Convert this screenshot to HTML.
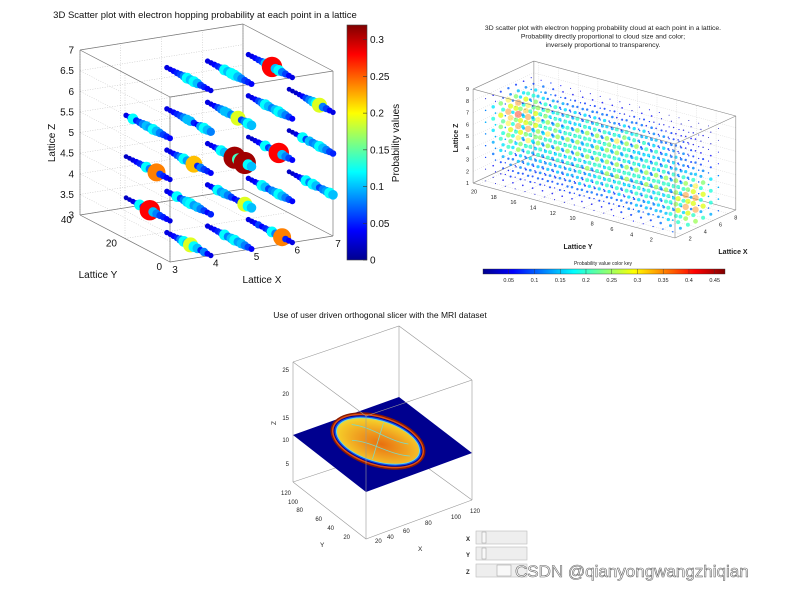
<!DOCTYPE html>
<html><head><meta charset="utf-8"><style>
html,body{margin:0;padding:0;background:#fff;}
svg{display:block;font-family:"Liberation Sans",sans-serif;}
</style></head><body>
<svg id="root" width="786" height="590" viewBox="0 0 786 590" xmlns="http://www.w3.org/2000/svg">
<defs>
<linearGradient id="jetV" x1="0" y1="1" x2="0" y2="0">
<stop offset="0" stop-color="#00008f"/><stop offset="0.125" stop-color="#0000ff"/><stop offset="0.375" stop-color="#00ffff"/><stop offset="0.625" stop-color="#ffff00"/><stop offset="0.875" stop-color="#ff0000"/><stop offset="1" stop-color="#800000"/>
</linearGradient>
<linearGradient id="jetH" x1="0" y1="0" x2="1" y2="0">
<stop offset="0" stop-color="#00008f"/><stop offset="0.125" stop-color="#0000ff"/><stop offset="0.375" stop-color="#00ffff"/><stop offset="0.625" stop-color="#ffff00"/><stop offset="0.875" stop-color="#ff0000"/><stop offset="1" stop-color="#800000"/>
</linearGradient>
<radialGradient id="brainFill" cx="0.55" cy="0.55" r="0.6">
<stop offset="0" stop-color="#e87010"/><stop offset="0.5" stop-color="#f0a020"/><stop offset="0.85" stop-color="#f5c828"/><stop offset="1" stop-color="#e8e040"/>
</radialGradient>
</defs>

<!-- Plot 1 -->
<g id="p1">
<text x="205" y="18" font-size="9.5" text-anchor="middle" fill="#111">3D Scatter plot with electron hopping probability at each point in a lattice</text>
<g id="p1grid"></g><g id="p1box"></g><g id="p1pts"></g><g id="p1ticks"></g>
<text transform="translate(55,143) rotate(-90)" font-size="10" text-anchor="middle" fill="#111">Lattice Z</text>
<text x="98" y="278" font-size="10" text-anchor="middle" fill="#111">Lattice Y</text>
<text x="262" y="283" font-size="10" text-anchor="middle" fill="#111">Lattice X</text>
<rect x="347" y="25" width="20" height="235" fill="url(#jetV)" stroke="#444" stroke-width="0.6"/>
<g id="cbticks"></g>
<text transform="translate(399,143) rotate(-90)" font-size="10" text-anchor="middle" fill="#111">Probability values</text>
</g>

<!-- Plot 2 -->
<g id="p2" fill="#222">
<text x="603" y="30" font-size="6.8" text-anchor="middle">3D scatter plot with electron hopping probability cloud at each point in a lattice.</text>
<text x="603" y="38.5" font-size="6.8" text-anchor="middle">Probability directly proportional to cloud size and color;</text>
<text x="603" y="47" font-size="6.8" text-anchor="middle">inversely proportional to transparency.</text>
<g id="p2back"></g><g id="p2pts"></g><g id="p2front"></g><g id="p2ticks"></g>
<text transform="translate(458,138) rotate(-90)" font-size="7" font-weight="bold" text-anchor="middle">Lattice Z</text>
<text x="578" y="249" font-size="7" font-weight="bold" text-anchor="middle">Lattice Y</text>
<text x="733" y="254" font-size="7" font-weight="bold" text-anchor="middle">Lattice X</text>
<text x="603" y="265" font-size="5" text-anchor="middle">Probability value color key</text>
<rect x="483" y="269" width="242" height="5" fill="url(#jetH)" stroke="#333" stroke-width="0.4"/>
<g id="keyticks"></g>
</g>

<!-- Plot 3 -->
<g id="p3">
<text x="380" y="318" font-size="8.5" text-anchor="middle" fill="#111">Use of user driven orthogonal slicer with the MRI dataset</text>
<g stroke="#999" stroke-width="0.6" fill="none">
<polyline points="293,482 399,447 472,500"/>
<line x1="399" y1="326" x2="399" y2="447"/>
<polyline points="293,362 399,326 472,380"/>
<line x1="293" y1="362" x2="293" y2="482"/>
<line x1="472" y1="380" x2="472" y2="500"/>
</g>
<polygon points="293,435 399,397 472,453 366,492" fill="#00008f"/>
<g transform="translate(378,441) rotate(17)">
<ellipse rx="49" ry="26" fill="#8a1a00"/>
<ellipse rx="47.5" ry="24.5" fill="#e05010"/>
<ellipse rx="46" ry="23" fill="#00008f"/>
<ellipse rx="45" ry="22" fill="#1050e8"/>
<ellipse rx="43.5" ry="20.8" fill="#60d8f0"/>
<ellipse rx="42.5" ry="20" fill="url(#brainFill)"/>
<path d="M-30,-8 C-10,-12 10,-3 30,-6 M-25,7 C-5,2 15,10 35,5 M0,-19 L0,19" stroke="#80d8c0" stroke-width="0.8" fill="none"/>
</g>
<g stroke="#999" stroke-width="0.6" fill="none">
<polyline points="293,482 366,539 472,500"/>
<polyline points="293,362 366,416 472,380"/>
<line x1="366" y1="416" x2="366" y2="539"/>
</g>
<g font-size="6" fill="#222" text-anchor="end">
<text x="289" y="372">25</text><text x="289" y="396">20</text><text x="289" y="420">15</text><text x="289" y="442">10</text><text x="289" y="466">5</text>
</g>
<text transform="translate(276,423) rotate(-90)" font-size="6.5" fill="#222" text-anchor="middle">Z</text>
<g font-size="6" fill="#222" text-anchor="end">
<text x="291" y="495">120</text><text x="298" y="504">100</text><text x="303" y="512">80</text><text x="322" y="521">60</text><text x="334" y="530">40</text><text x="350" y="539">20</text>
</g>
<text x="320" y="547" font-size="6.5" fill="#222">Y</text>
<g font-size="6" fill="#222">
<text x="375" y="543">20</text><text x="387" y="539">40</text><text x="403" y="533">60</text><text x="425" y="525">80</text><text x="451" y="519">100</text><text x="470" y="513">120</text>
</g>
<text x="418" y="551" font-size="6.5" fill="#222">X</text>
<g font-size="6" font-weight="bold" fill="#222">
<text x="466" y="541">X</text><text x="466" y="557">Y</text><text x="466" y="574">Z</text>
</g>
<g><rect x="476" y="531" width="51" height="13" fill="#eee" stroke="#bbb" stroke-width="0.6"/><rect x="482" y="532" width="4" height="11" fill="#f8f8f8" stroke="#999" stroke-width="0.5"/></g>
<g><rect x="476" y="547" width="51" height="13" fill="#eee" stroke="#bbb" stroke-width="0.6"/><rect x="482" y="548" width="4" height="11" fill="#f8f8f8" stroke="#999" stroke-width="0.5"/></g>
<g><rect x="476" y="564" width="51" height="13" fill="#eee" stroke="#bbb" stroke-width="0.6"/><rect x="497" y="565" width="14" height="11" fill="#f8f8f8" stroke="#999" stroke-width="0.5"/></g>
</g>

<text x="515" y="577" font-size="17" fill="#fff" stroke="#666" stroke-width="0.6">CSDN @qianyongwangzhiqian</text>
</svg>
<script>
// ---- Plot 1 data ----
const lineX = [4,5,6, 3,4,5,6,7, 3,4,5,6,7, 3,4,5,6,7, 4,5,6];
const lineZ = [3,3,3, 4,4,4,4,4, 5,5,5,5,5, 6,6,6,6,6, 7,7,7];
const lineY = [0,1.5,3,4.5,6,7.5,9,10.5,12,13.5,15,16.5,18,19.5];
const lineVals = [
[3,4,8,5,10,12,19,10,12,8,5,4,3,3],
[4,6,8,10,9,12,10,8,12,6,5,4,3,3],
[3,4,5,24,10,8,12,6,5,4,6,4,3,3],
[3,4,5,6,8,10,28,10,6,12,4,3,2,2],
[5,4,6,8,10,9,12,11,8,6,12,5,4,3],
[10,12,19,6,5,4,6,8,10,9,12,5,4,3],
[4,6,8,10,12,9,8,6,10,12,5,4,3,3],
[10,12,9,8,6,10,12,8,12,6,4,3,2,2],
[3,4,5,6,24,10,8,12,6,5,4,3,2,2],
[4,5,6,8,5,22,10,9,12,8,6,4,3,3],
[10,12,31,5,14,31,14,5,10,12,6,4,3,3],
[4,6,8,10,28,10,8,6,12,5,4,3,2,2],
[5,6,8,10,12,9,8,10,6,12,4,3,2,2],
[4,5,6,8,10,12,9,10,8,6,5,12,4,3],
[8,10,12,9,4,5,10,10,8,6,5,4,3,3],
[10,12,8,6,19,10,8,10,10,8,6,4,3,3],
[4,6,8,10,12,10,8,10,12,8,6,4,3,3],
[3,4,6,8,19,12,10,8,6,4,3,2,2,2],
[3,4,5,6,10,12,10,12,8,6,5,4,3,3],
[4,5,6,8,10,12,12,10,12,6,5,4,3,3],
[3,4,6,8,12,10,28,12,10,6,5,4,3,3]
];
const zTicks1 = ["3","3.5","4","4.5","5","5.5","6","6.5","7"];
const yTicks1 = [0,20,40];
const xTicks1 = [3,4,5,6,7];
const cbTicks = [0,0.05,0.1,0.15,0.2,0.25,0.3];
// ---- Plot 2 data (rows z=8..1, columns y=20..1, digit*0.05) ----
const cloudRows = [
"23432222222122111111",
"67655444443444332211",
"78765545555655443322",
"67756555455544444333",
"56655555555555555556",
"45444444545554555577",
"23333333444444444577",
"12222222222223333455"
];
const cloudZ = [8,7,6,5,4,3,2,1];
const cloudDepth = [3,4,5,6,7];
const depthWeight = [0.55,0.8,1,0.8,0.55];
const zTicks2 = [1,2,3,4,5,6,7,8,9];
const yTicks2 = [2,4,6,8,10,12,14,16,18,20];
const xTicks2 = [2,4,6,8];
const keyTicks = [0.05,0.1,0.15,0.2,0.25,0.3,0.35,0.4,0.45];

const NS="http://www.w3.org/2000/svg";
function mk(tag,attrs,parent){const e=document.createElementNS(NS,tag);for(const k in attrs)e.setAttribute(k,attrs[k]);parent.appendChild(e);return e;}
function jet(t){t=Math.max(0,Math.min(1,t));
 const s=[[0,0,0,143],[0.125,0,0,255],[0.375,0,255,255],[0.625,255,255,0],[0.875,255,0,0],[1,128,0,0]];
 for(let i=0;i<s.length-1;i++){if(t<=s[i+1][0]){const f=(t-s[i][0])/(s[i+1][0]-s[i][0]);
  return `rgb(${Math.round(s[i][1]+f*(s[i+1][1]-s[i][1]))},${Math.round(s[i][2]+f*(s[i+1][2]-s[i][2]))},${Math.round(s[i][3]+f*(s[i+1][3]-s[i][3]))})`;}}return "rgb(128,0,0)";}

// ---- Plot 1 ----
function p1(x,y,z){return [170+40.75*(x-3)-2.25*y, 262-6.5*(x-3)-1.175*y-41.25*(z-3)];}
const g1grid=document.getElementById('p1grid'),g1box=document.getElementById('p1box'),g1pts=document.getElementById('p1pts'),g1t=document.getElementById('p1ticks');
function seg(g,a,b,st){const e=mk('line',{x1:a[0],y1:a[1],x2:b[0],y2:b[1],stroke:st.c,'stroke-width':st.w,'stroke-dasharray':st.d||'none'},g);return e;}
const dot={c:'#bbb',w:0.5,d:'1,1.5'};
for(let i=0;i<zTicks1.length;i++){const z=3+0.5*i;
 let e=seg(g1grid,p1(3,0,z),p1(3,40,z),dot);
 e=seg(g1grid,p1(3,40,z),p1(7,40,z),dot);}
for(const x of xTicks1){let e=seg(g1grid,p1(x,40,3),p1(x,40,7),dot);
 e=seg(g1grid,p1(x,0,3),p1(x,40,3),dot);}
for(const y of yTicks1){let e=seg(g1grid,p1(3,y,3),p1(3,y,7),dot);
 e=seg(g1grid,p1(3,y,3),p1(7,y,3),dot);}
const bx={c:'#777',w:0.7};
const edges=[[[3,0,3],[7,0,3]],[[3,0,3],[3,40,3]],[[3,0,3],[3,0,7]],[[7,0,3],[7,40,3]],[[3,40,3],[7,40,3]],[[7,0,3],[7,0,7]],[[3,40,3],[3,40,7]],[[7,40,3],[7,40,7]],[[3,0,7],[7,0,7]],[[3,0,7],[3,40,7]],[[7,0,7],[7,40,7]],[[3,40,7],[7,40,7]]];
for(const ed of edges){const e=seg(g1box,p1(...ed[0]),p1(...ed[1]),bx);}
const pts=[];
for(let i=0;i<lineX.length;i++){for(let j=0;j<lineY.length;j++){pts.push({x:lineX[i],y:lineY[j],z:lineZ[i],v:lineVals[i][j]/100});}}
pts.sort((a,b)=>(b.x*0.3+b.y*0.1)-(a.x*0.3+a.y*0.1));
for(const p of pts){const c=p1(p.x,p.y,p.z);
 const e=mk('circle',{cx:c[0].toFixed(1),cy:c[1].toFixed(1),r:(1.8+30*p.v).toFixed(2),fill:jet(p.v/0.32)},g1pts);
 
 }
for(let i=0;i<zTicks1.length;i++){const c=p1(3,40,3+0.5*i);
 const e=mk('text',{x:c[0]-6,y:c[1]+3.5,'font-size':10,'text-anchor':'end',fill:'#111'},g1t);e.textContent=zTicks1[i];
 }
for(const y of yTicks1){const c=p1(3,y,3);
 const e=mk('text',{x:c[0]-8,y:c[1]+8,'font-size':10,'text-anchor':'end',fill:'#111'},g1t);e.textContent=y;
 }
for(const x of xTicks1){const c=p1(x,0,3);
 const e=mk('text',{x:c[0]+5,y:c[1]+11,'font-size':10,'text-anchor':'middle',fill:'#111'},g1t);e.textContent=x;
 }
const cbg=document.getElementById('cbticks');
for(const t of cbTicks){const yy=260-t/0.32*235;
 let e=mk('line',{x1:363,y1:yy,x2:367,y2:yy,stroke:'#333','stroke-width':0.6},cbg);
 e=mk('text',{x:370,y:yy+3.5,'font-size':10,fill:'#111'},cbg);e.textContent=String(t);
 }

// ---- Plot 2 ----
function p2(x,y,z){return [675+7.6*(x-1)-9.85*y, 238-3.5*(x-1)-2.68*y-11.75*(z-1)];}
const b2=document.getElementById('p2back'),f2=document.getElementById('p2front'),pp2=document.getElementById('p2pts'),t2=document.getElementById('p2ticks');
const gl={c:'#ccc',w:0.4,d:'1,1.2'},bl={c:'#888',w:0.6};
for(const z of zTicks2){let e=seg(b2,p2(9,0,z),p2(9,20.5,z),gl);
 e=seg(b2,p2(1,20.5,z),p2(9,20.5,z),gl);}
for(const y of yTicks2){let e=seg(b2,p2(9,y,1),p2(9,y,9),gl);
 e=seg(b2,p2(1,y,1),p2(9,y,1),gl);}
for(const x of xTicks2){let e=seg(b2,p2(x,0,1),p2(x,20.5,1),gl);}
const backEdges=[[[9,0,1],[9,0,9]],[[9,20.5,1],[9,20.5,9]],[[9,0,9],[9,20.5,9]],[[1,20.5,9],[9,20.5,9]],[[1,20.5,1],[9,20.5,1]],[[9,0,1],[9,20.5,1]]];
for(const ed of backEdges){const e=seg(b2,p2(...ed[0]),p2(...ed[1]),bl);}
const frontEdges=[[[1,0,1],[1,20.5,1]],[[1,0,1],[1,0,9]],[[1,20.5,1],[1,20.5,9]],[[1,0,9],[1,20.5,9]],[[1,0,1],[9,0,1]],[[1,0,9],[9,0,9]]];
for(const ed of frontEdges){const e=seg(f2,p2(...ed[0]),p2(...ed[1]),bl);}
for(const xd of [8,2]){for(let r=0;r<cloudRows.length;r++){for(let c=0;c<20;c++){
 const v=+cloudRows[r][c]*0.05*0.4;const pt=p2(xd,20-c,cloudZ[r]);
 const e=mk('circle',{cx:pt[0].toFixed(1),cy:pt[1].toFixed(1),r:(0.4+3*v).toFixed(2),fill:jet(v/0.47)},pp2);
 
 }}}
for(let d=cloudDepth.length-1;d>=0;d--){for(let r=0;r<cloudRows.length;r++){for(let c=0;c<20;c++){
 const v=+cloudRows[r][c]*0.05*depthWeight[d];const pt=p2(cloudDepth[d],20-c,cloudZ[r]);
 const e=mk('circle',{cx:pt[0].toFixed(1),cy:pt[1].toFixed(1),r:(0.4+8*v).toFixed(2),fill:jet(v/0.47),opacity:(v>0.3?0.45:0.8)},pp2);
 
 }}}
for(const z of zTicks2){const c=p2(1,20.5,z);
 const e=mk('text',{x:c[0]-4,y:c[1]+2,'font-size':5.5,'text-anchor':'end',fill:'#222'},t2);e.textContent=z;
 }
for(const y of yTicks2){const c=p2(1,y,1);
 const e=mk('text',{x:c[0]-4,y:c[1]+9,'font-size':5.5,'text-anchor':'middle',fill:'#222'},t2);e.textContent=y;
 }
for(const x of xTicks2){const c=p2(x,0,1);
 const e=mk('text',{x:c[0]+6,y:c[1]+6,'font-size':5.5,fill:'#222'},t2);e.textContent=x;
 }
const kg=document.getElementById('keyticks');
for(const t of keyTicks){const xx=483+t/0.47*242;
 let e=mk('line',{x1:xx,y1:269,x2:xx,y2:274,stroke:'#333','stroke-width':0.4},kg);
 e=mk('text',{x:xx,y:282,'font-size':5.5,'text-anchor':'middle',fill:'#222'},kg);e.textContent=String(t);
 }
</script>
</body></html>
